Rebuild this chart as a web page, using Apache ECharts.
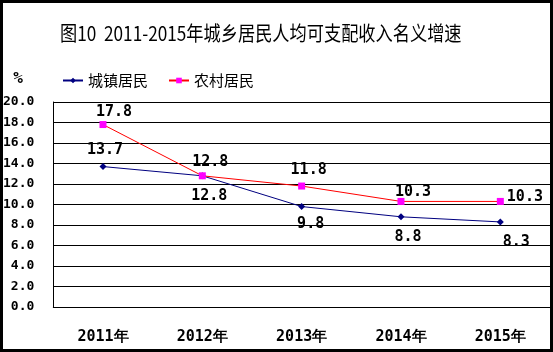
<!DOCTYPE html>
<html>
<head>
<meta charset="utf-8">
<script src="https://cdn.jsdelivr.net/npm/echarts@6/dist/echarts.min.js"></script>
<style>
  html, body { margin: 0; padding: 0; background: #fff; }
  #chart { width: 553px; height: 352px; }
</style>
</head>
<body>
<div id="chart"></div>
<script>
  var years = ['2011年', '2012年', '2013年', '2014年', '2015年'];
  var urban = [13.7, 12.8, 9.8, 8.8, 8.3];
  var rural = [17.8, 12.8, 11.8, 10.3, 10.3];

  // label placement per point (position, distance, offset)
  var urbanLabelPos = [
    ['top', 5, [2, 0]], ['bottom', 9, [7, 0]], ['bottom', 7, [9, 0]],
    ['bottom', 9, [7, 0]], ['bottom', 9, [16, 0]]
  ];
  var ruralLabelPos = [
    ['top', 1, [11, 0]], ['top', 3, [8, 0]], ['top', 5, [7, 0]],
    ['top', -2, [12, 0]], ['right', 3, [0, -4]]
  ];

  var numFont = '"DejaVu Sans Mono", monospace';

  function buildData(values, pos) {
    return values.map(function (v, i) {
      return {
        value: v,
        label: { position: pos[i][0], distance: pos[i][1], offset: pos[i][2] }
      };
    });
  }

  var chart = echarts.init(document.getElementById('chart'));
  chart.setOption({
    animation: false,
    backgroundColor: '#fff',
    graphic: [
      {
        type: 'rect',
        shape: { x: 1.5, y: 1.5, width: 550, height: 349 },
        style: { fill: 'none', stroke: '#000', lineWidth: 3 },
        silent: true
      },
      {
        type: 'text',
        x: 60, y: 33, scaleX: 0.86,
        style: {
          text: '图10  2011-2015年城乡居民人均可支配收入名义增速',
          font: '20px "Noto Sans CJK SC", sans-serif',
          fill: '#000',
          verticalAlign: 'middle'
        }
      },
      {
        type: 'text',
        x: 18, y: 79,
        style: {
          text: '%',
          font: 'bold 16px ' + numFont,
          fill: '#000',
          align: 'center',
          verticalAlign: 'middle'
        }
      }
    ],
    legend: {
      left: 57,
      top: 68,
      itemWidth: 20,
      itemHeight: 7,
      itemGap: 20,
      textStyle: { fontSize: 15, color: '#000', fontFamily: '"Noto Sans CJK SC", sans-serif' },
      data: ['城镇居民', '农村居民']
    },
    grid: { left: 52, right: 3, top: 102, bottom: 45 },
    xAxis: {
      type: 'category',
      data: years,
      boundaryGap: true,
      axisLine: { lineStyle: { color: '#000', width: 1 } },
      axisTick: { inside: true, length: 5, interval: 0, lineStyle: { color: '#000' } },
      axisLabel: {
        margin: 23,
        color: '#000',
        fontSize: 15,
        fontWeight: 'bold',
        fontFamily: numFont
      }
    },
    yAxis: {
      type: 'value',
      min: 0,
      max: 20,
      interval: 2,
      axisLine: { show: true, lineStyle: { color: '#000', width: 1 } },
      axisTick: { show: false },
      splitLine: { lineStyle: { color: '#000', width: 1 } },
      axisLabel: {
        margin: 19,
        color: '#000',
        fontSize: 13,
        fontWeight: 'bold',
        fontFamily: numFont,
        formatter: function (v) { return v.toFixed(1); }
      }
    },
    series: [
      {
        name: '城镇居民',
        type: 'line',
        data: buildData(urban, urbanLabelPos),
        symbol: 'diamond',
        symbolSize: 7,
        color: '#000080',
        lineStyle: { color: '#000080', width: 1 },
        itemStyle: { color: '#000080' },
        label: {
          show: true,
          color: '#000',
          fontSize: 15,
          fontWeight: 'bold',
          fontFamily: numFont,
          formatter: function (p) { return p.value.toFixed(1); }
        }
      },
      {
        name: '农村居民',
        type: 'line',
        data: buildData(rural, ruralLabelPos),
        symbol: 'rect',
        symbolSize: 7,
        color: '#FF00FF',
        lineStyle: { color: '#FF0000', width: 1 },
        itemStyle: { color: '#FF00FF' },
        label: {
          show: true,
          color: '#000',
          fontSize: 15,
          fontWeight: 'bold',
          fontFamily: numFont,
          formatter: function (p) { return p.value.toFixed(1); }
        }
      }
    ]
  });
</script>
</body>
</html>
